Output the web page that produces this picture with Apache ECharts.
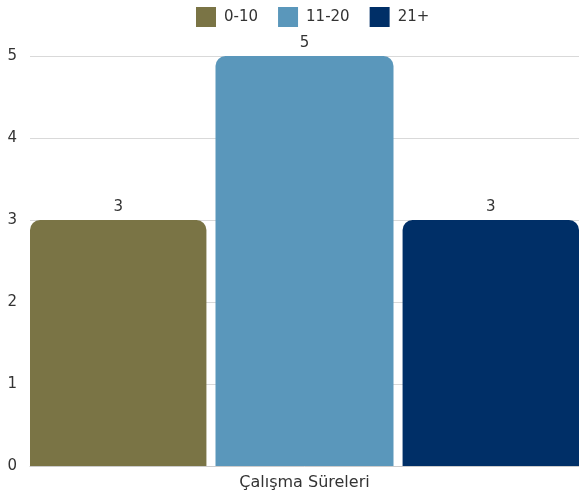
<!DOCTYPE html>
<html>
<head>
<meta charset="utf-8">
<script src="https://cdn.jsdelivr.net/npm/echarts@6/dist/echarts.min.js"></script>
<style>html,body{margin:0;padding:0;background:#fff;}#c{width:579px;height:500px;}</style>
</head>
<body>
<div id="c"></div>
<script>
var categories = ['Çalışma Süreleri'];
var seriesNames = ['0-10', '11-20', '21+'];
var values010 = [3];
var values1120 = [5];
var values21 = [3];
var colors = ['#7a7445', '#5a97bb', '#002f67'];
var yTicks = [0, 1, 2, 3, 4, 5];

var font = 'DejaVu Sans';
var chart = echarts.init(document.getElementById('c'));
var seriesData = [values010, values1120, values21];
chart.setOption({
  animation: false,
  textStyle: { fontFamily: font },
  legend: {
    top: 2, left: 191,
    itemWidth: 20, itemHeight: 20, itemGap: 20,
    icon: 'rect',
    textStyle: { fontFamily: font, fontSize: 15, color: '#333', padding: [0, 0, 0, 3] },
    data: seriesNames
  },
  grid: { left: 30, width: 552, top: 56, bottom: 34, containLabel: false },
  xAxis: {
    type: 'category', data: categories,
    axisTick: { show: false },
    axisLine: { show: true, lineStyle: { color: '#ccc' } },
    axisLabel: { fontFamily: font, fontSize: 16, color: '#333', margin: 9 }
  },
  yAxis: {
    type: 'value', min: yTicks[0], max: yTicks[yTicks.length - 1], interval: 1,
    axisLine: { show: false }, axisTick: { show: false },
    splitLine: { lineStyle: { color: '#d9d9d9' } },
    axisLabel: { fontFamily: font, fontSize: 15, color: '#333', margin: 13 }
  },
  series: seriesNames.map(function (n, i) {
    return {
      name: n, type: 'bar', data: seriesData[i],
      barWidth: 178, barGap: '5.1%',
      itemStyle: { color: colors[i], borderRadius: [10, 10, 0, 0] },
      label: { show: true, position: 'top', fontFamily: font, fontSize: 15, color: '#333', distance: 5 }
    };
  })
});
</script>
</body>
</html>
